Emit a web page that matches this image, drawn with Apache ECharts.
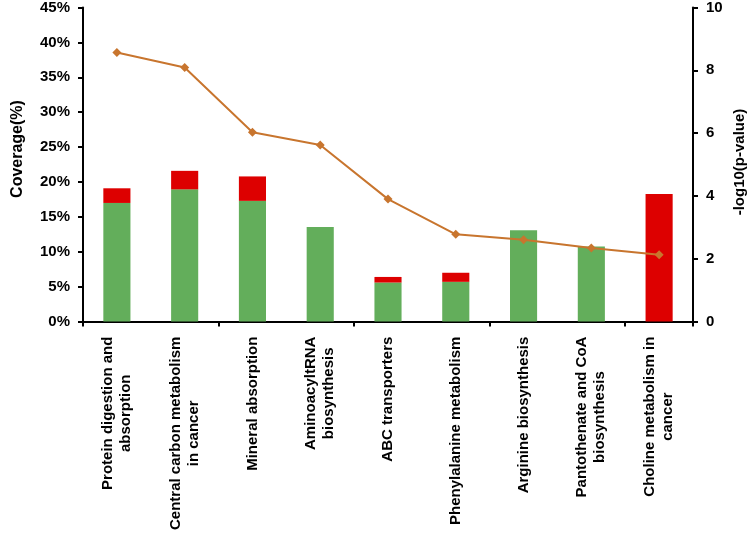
<!DOCTYPE html>
<html>
<head>
<meta charset="utf-8">
<script src="https://cdn.jsdelivr.net/npm/echarts@6/dist/echarts.min.js"></script>
<style>html,body{margin:0;padding:0;background:#fff}#c{width:747px;height:533px}</style>
</head>
<body>
<div id="c"></div>
<script>
const categories = [
  "Protein digestion and\nabsorption",
  "Central carbon metabolism\nin cancer",
  "Mineral absorption",
  "AminoacyltRNA\nbiosynthesis",
  "ABC transporters",
  "Phenylalanine metabolism",
  "Arginine biosynthesis",
  "Pantothenate and CoA\nbiosynthesis",
  "Choline metabolism in\ncancer"
];
const greenCoverage = [17.0, 18.95, 17.3, 13.55, 5.6, 5.7, 13.1, 10.75, 0];
const redCoverage = [2.1, 2.65, 3.5, 0, 0.8, 1.3, 0, 0, 18.3];
const logP = [8.57, 8.09, 6.03, 5.62, 3.9, 2.78, 2.61, 2.34, 2.13];

const FONT = '"Liberation Sans", Arial, sans-serif';
const chart = echarts.init(document.getElementById('c'));
chart.setOption({
  animation: false,
  backgroundColor: '#ffffff',
  textStyle: { fontFamily: FONT },
  grid: { left: 83, right: 54, top: 6, bottom: 211, containLabel: false },
  xAxis: {
    type: 'category',
    data: categories,
    boundaryGap: true,
    axisLine: { lineStyle: { color: '#000', width: 2 } },
    axisTick: { show: true, interval: 1, length: 5, lineStyle: { color: '#000', width: 2 } },
    axisLabel: {
      interval: 0,
      rotate: 90,
      margin: 15,
      formatter: function (v) {
        return v.split('\n').map(function (s) { return '{a|' + s + '}'; }).join('\n');
      },
      rich: {
        a: { align: 'center', fontFamily: FONT, fontWeight: 'bold', fontSize: 15, lineHeight: 18, color: '#000' }
      }
    }
  },
  yAxis: [
    {
      type: 'value', min: 0, max: 45, interval: 5,
      splitLine: { show: false },
      axisLine: { show: true, lineStyle: { color: '#000', width: 2 } },
      axisTick: { show: true, length: 5, lineStyle: { color: '#000', width: 2 } },
      axisLabel: { formatter: '{value}%', margin: 13, color: '#000', fontWeight: 'bold', fontSize: 15, fontFamily: FONT }
    },
    {
      type: 'value', min: 0, max: 10, interval: 2,
      splitLine: { show: false },
      axisLine: { show: true, lineStyle: { color: '#000', width: 2 } },
      axisTick: { show: true, length: 5, lineStyle: { color: '#000', width: 2 } },
      axisLabel: { margin: 13, color: '#000', fontWeight: 'bold', fontSize: 15, fontFamily: FONT }
    }
  ],
  graphic: [
    { type: 'text', x: 18, y: 149, rotation: Math.PI / 2,
      style: { text: 'Coverage(%)', fill: '#000', font: 'bold 16px ' + FONT, align: 'center', verticalAlign: 'middle' } },
    { type: 'text', x: 740, y: 162, rotation: Math.PI / 2,
      style: { text: '-log10(p-value)', fill: '#000', font: 'bold 15px ' + FONT, align: 'center', verticalAlign: 'middle' } }
  ],
  series: [
    { type: 'bar', stack: 'cov', data: greenCoverage, barWidth: '40%', itemStyle: { color: '#63AE5B' } },
    { type: 'bar', stack: 'cov', data: redCoverage, barWidth: '40%', itemStyle: { color: '#DD0000' } },
    { type: 'line', yAxisIndex: 1, data: logP, symbol: 'diamond', symbolSize: 9,
      lineStyle: { color: '#C8752E', width: 2 }, itemStyle: { color: '#C8752E' } }
  ]
});
</script>
</body>
</html>
